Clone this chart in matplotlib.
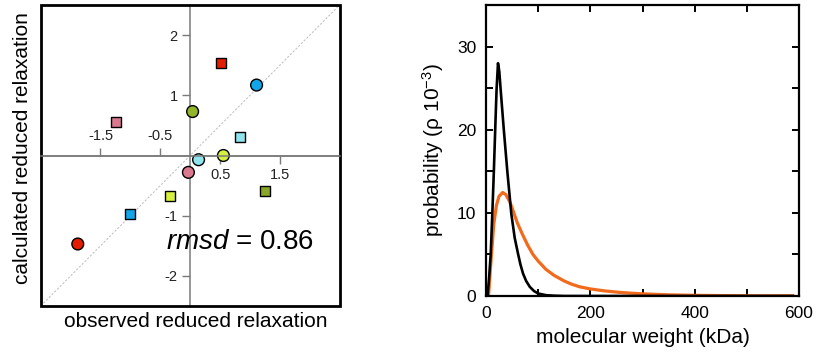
import numpy as np
import matplotlib.pyplot as plt
from matplotlib.patches import Rectangle
from matplotlib.ticker import MultipleLocator

plt.rcParams['font.family'] = ['Liberation Sans', 'DejaVu Sans']
plt.rcParams['mathtext.fontset'] = 'custom'
plt.rcParams['mathtext.rm'] = 'Liberation Sans'
plt.rcParams['mathtext.it'] = 'Liberation Sans:italic'

# left panel: observed vs calculated reduced relaxation
obs_sq = [0.52, -1.245, 0.84, 1.255, -0.33, -1.0]
calc_sq = [1.53, 0.55, 0.30, -0.59, -0.68, -0.97]
col_sq = ['#e31e00', '#d9788f', '#8fe4ee', '#8aa628', '#d8f03c', '#12a5e8']

obs_ci = [1.11, 0.04, 0.555, 0.14, -0.03, -1.88]
calc_ci = [1.17, 0.73, 0.0, -0.07, -0.28, -1.47]
col_ci = ['#12a5e8', '#93b52a', '#d8f03c', '#8fe4ee', '#d9788f', '#e31e00']

rmsd = 0.86

# right panel: molecular weight distributions
mw_black = [0, 3, 6, 9, 12, 15, 17.7, 20.3, 23, 25.5, 28, 34, 41, 48.5, 55, 61, 66,
            71, 77, 84, 92, 100, 115, 130, 150, 200, 300, 400, 500, 588]
p_black = [0, 0, 2.2, 5.0, 9.7, 14.9, 20.1, 24.9, 28.0, 27.0, 24.9, 20.1, 14.9, 9.9,
           7.0, 5.2, 3.8, 2.7, 1.8, 1.1, 0.6, 0.3, 0.1, 0.04, 0, 0, 0, 0, 0, 0]

mw_orange = [0, 5, 10, 15, 20, 25, 32, 38, 45, 50, 60, 70, 80, 90, 100, 115, 130,
             150, 165, 180, 200, 225, 250, 275, 300, 350, 400, 450, 500, 588]
p_orange = [0, 0.2, 4.6, 8.7, 10.9, 12.0, 12.45, 12.2, 11.4, 10.6, 8.8, 7.4, 6.1,
            5.0, 4.2, 3.2, 2.5, 1.8, 1.4, 1.1, 0.85, 0.63, 0.47, 0.35, 0.26, 0.14,
            0.08, 0.05, 0.03, 0.02]

fig = plt.figure(figsize=(8.16, 3.56), dpi=100)

# ---- left
ax = fig.add_axes([40.7 / 816, 50 / 356, 299 / 816, 301 / 356])
ax.set_xlim(-2.5, 2.5)
ax.set_ylim(-2.5, 2.5)
ax.axline((0, 0), slope=1, color='#c4c4c4', lw=0.8, ls=(0, (2, 1.5)), zorder=1)

ax.scatter(obs_sq, calc_sq, marker='s', s=52, c=col_sq, edgecolors='black',
           linewidths=1.0, zorder=3)
ax.scatter(obs_ci, calc_ci, marker='o', s=72, c=col_ci, edgecolors='black',
           linewidths=1.0, zorder=3)

grey = '#7a7a7a'
for side in ['top', 'right']:
    ax.spines[side].set_visible(False)
for side in ['left', 'bottom']:
    ax.spines[side].set_position(('data', 0))
    ax.spines[side].set_color(grey)
    ax.spines[side].set_linewidth(1.1)
ax.set_xticks([0.5, 1.5])
ax.set_xticklabels(['0.5', '1.5'])
ax.set_yticks([-2, -1, 1, 2])
ax.set_yticklabels(['-2', '-1', '1', '2'])
ax.tick_params(direction='out', length=6, width=1, color=grey,
               labelsize=10.5, labelcolor='#222222', pad=3)

ax2 = ax.twiny()
ax2.set_xlim(-2.5, 2.5)
for side in ['bottom', 'left', 'right']:
    ax2.spines[side].set_visible(False)
ax2.spines['top'].set_position(('data', 0))
ax2.spines['top'].set_color(grey)
ax2.spines['top'].set_linewidth(1.1)
ax2.set_xticks([-1.5, -0.5])
ax2.set_xticklabels(['-1.5', '-0.5'])
ax2.tick_params(direction='out', length=6, width=1, color=grey,
                labelsize=10.5, labelcolor='#222222', pad=3)

ax.add_patch(Rectangle((0, 0), 1, 1, transform=ax.transAxes, fill=False,
                       lw=2, edgecolor='black', clip_on=False, zorder=5))

ax.text(-0.40, -1.44, r'$\mathit{rmsd}$' + f' = {rmsd:.2f}', fontsize=20,
        va='center', ha='left', zorder=4)
ax.text(0.518, -0.053, 'observed reduced relaxation', transform=ax.transAxes,
        ha='center', va='center', fontsize=15)
ax.text(-0.0625, 0.525, 'calculated reduced relaxation', transform=ax.transAxes,
        ha='center', va='center', rotation=90, fontsize=15)

# ---- right
bx = fig.add_axes([486 / 816, 60 / 356, 313 / 816, 291 / 356])
bx.plot(mw_orange, p_orange, color='#f26a1b', lw=2.3)
bx.plot(mw_black, p_black, color='black', lw=1.9)
bx.set_xlim(0, 600)
bx.set_ylim(0, 35)
bx.xaxis.set_major_locator(MultipleLocator(200))
bx.xaxis.set_minor_locator(MultipleLocator(100))
bx.yaxis.set_major_locator(MultipleLocator(10))
bx.yaxis.set_minor_locator(MultipleLocator(5))
bx.tick_params(which='both', direction='in', length=5, width=1.4,
               top=True, right=True)
bx.tick_params(labelsize=12.5, pad=7)
for side in bx.spines.values():
    side.set_linewidth(1.6)
bx.set_xlabel('molecular weight (kDa)', fontsize=15, labelpad=5)
bx.set_ylabel(r'probability (ρ 10$^{-3}$)', fontsize=15, labelpad=8)

fig.savefig('out.png', dpi=100)
